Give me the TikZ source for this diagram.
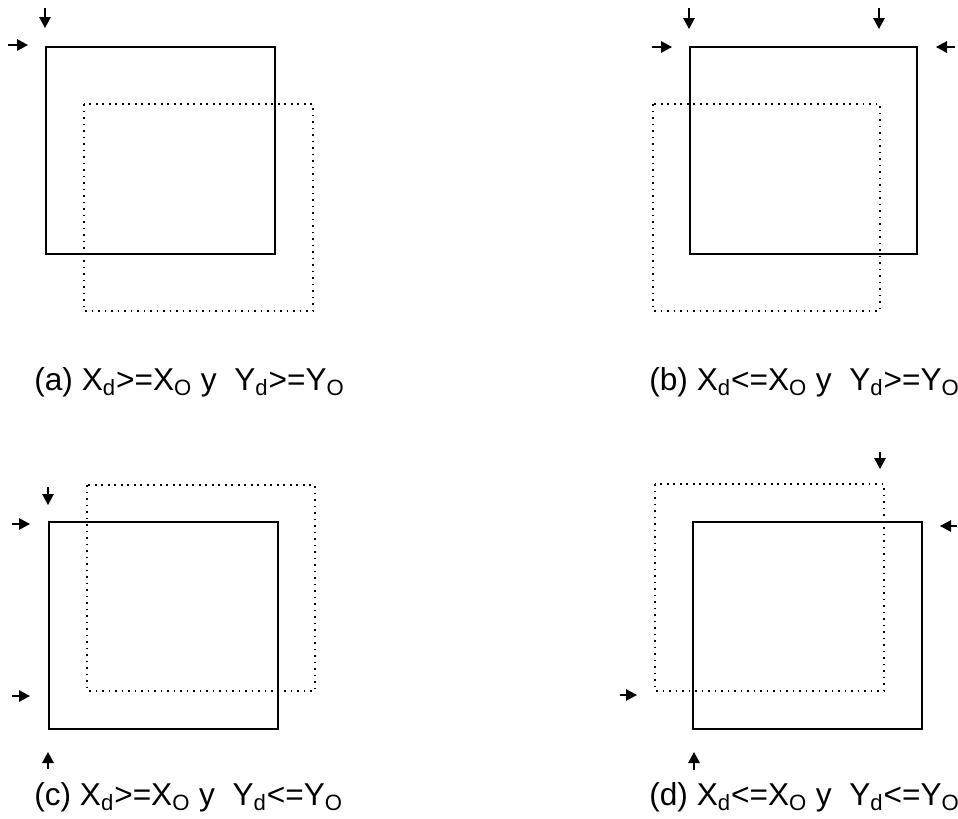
\documentclass[tikz,border=0pt]{standalone}
\usepackage{fontspec}
\setmainfont{Liberation Sans}
\usetikzlibrary{arrows.meta}

\begin{document}
\begin{tikzpicture}[
    x=0.02cm, y=-0.02cm,
    win/.style={draw, line width=1.1pt},
    dotwin/.style={draw, line width=1.1pt, dash pattern=on 1.1pt off 2.6pt},
    marker/.style={-{Triangle[length=2.2mm, width=2.3mm]}, line width=0.8pt},
    caption/.style={anchor=base west, inner sep=0pt, font=\fontsize{18}{22}\selectfont}
]
\useasboundingbox (0,0) rectangle (958,819);

% Panel (a)
\draw[win] (46,47) rectangle (275,254);
\draw[dotwin] (84,104) rectangle (313,311);
\draw[marker] (45,8) -- (45,28);
\draw[marker] (8,45) -- (28,45);
\node[caption] (capa) at (34,390) {(a) X\textsubscript{d}>=X\textsubscript{O} y~~Y\textsubscript{d}>=Y\textsubscript{O}};

% Panel (b)
\draw[win] (690,47) rectangle (917,254);
\draw[dotwin] (653,104) rectangle (880,311);
\draw[marker] (689,8) -- (689,29);
\draw[marker] (879,8) -- (879,29);
\draw[marker] (652,47) -- (672,47);
\draw[marker] (955,47) -- (936,47);
\node[caption] (capb) at (649,390) {(b) X\textsubscript{d}<=X\textsubscript{O} y~~Y\textsubscript{d}>=Y\textsubscript{O}};

% Panel (c)
\draw[win] (49,522) rectangle (278,729);
\draw[dotwin] (87,485) rectangle (315,691);
\draw[marker] (48,487) -- (48,505);
\draw[marker] (12,524) -- (30,524);
\draw[marker] (12,696) -- (30,696);
\draw[marker] (48,769) -- (48,752);
\node[caption] (capc) at (34,805) {(c) X\textsubscript{d}>=X\textsubscript{O} y~~Y\textsubscript{d}<=Y\textsubscript{O}};

% Panel (d)
\draw[win] (693,522) rectangle (922,729);
\draw[dotwin] (655,484) rectangle (884,691);
\draw[marker] (880,452) -- (880,469);
\draw[marker] (957,526) -- (940,526);
\draw[marker] (620,695) -- (637,695);
\draw[marker] (694,770) -- (694,752);
\node[caption] (capd) at (649,805) {(d) X\textsubscript{d}<=X\textsubscript{O} y~~Y\textsubscript{d}<=Y\textsubscript{O}};

\end{tikzpicture}
\end{document}
